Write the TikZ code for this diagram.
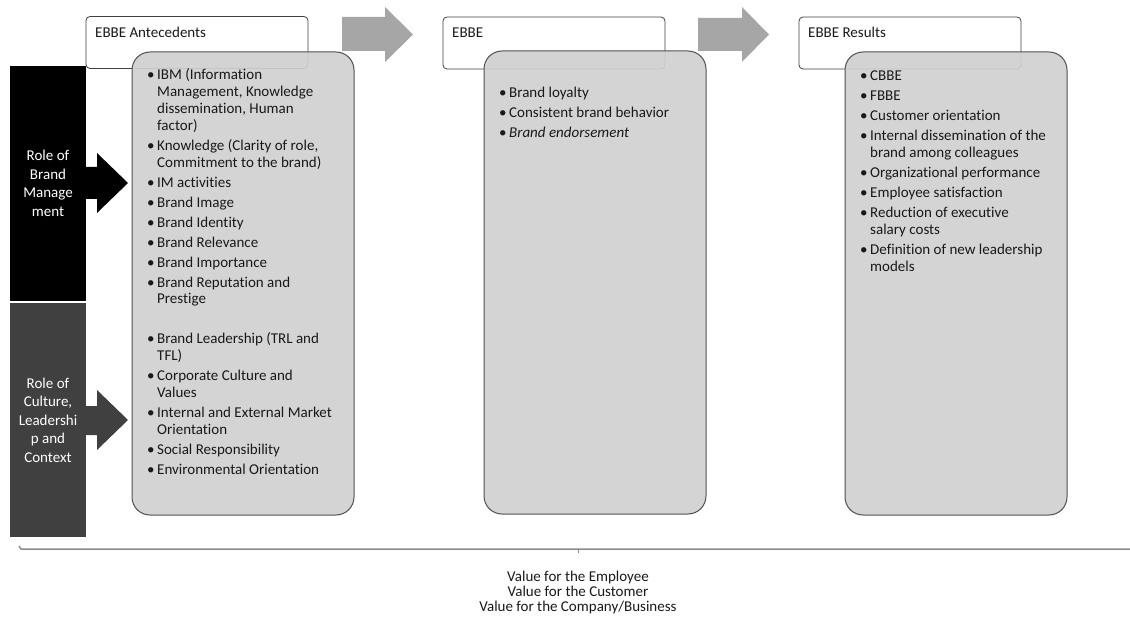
\documentclass[tikz,border=0pt]{standalone}
\usepackage{fontspec}
\setmainfont{Carlito}[Ligatures={NoCommon,NoContextual}]
\definecolor{panelgray}{HTML}{D0D0D0}
\definecolor{flowgray}{HTML}{A6A6A6}
\definecolor{darkbar}{HTML}{404040}
\definecolor{edgegray}{HTML}{505050}
\definecolor{rulegray}{HTML}{8A8A8A}
% one bullet point with a hanging indent
\newcommand{\bitem}[1]{\par\hangindent=10pt\hangafter=1\noindent\makebox[10pt][l]{\textbullet}#1\par}
% a block of bullet points whose baseline is its first line
\newcommand{\bulletblock}[2]{\vtop{\hsize=#1\fontsize{15}{16.8}\selectfont\parindent=0pt\parskip=3.2pt #2}}
\begin{document}
\begin{tikzpicture}[x=1pt,y=-1pt,
  headbox/.style={draw=black!75, line width=0.8pt, fill=white, rounded corners=4pt,
    minimum width=222pt, minimum height=52pt, inner sep=0pt, outer sep=0pt},
  panel/.style={draw=edgegray, line width=1pt, fill=panelgray, fill opacity=0.92,
    rounded corners=18pt, minimum width=222pt, minimum height=463pt, inner sep=0pt, outer sep=0pt},
  sidebar/.style={minimum width=76pt, inner sep=0pt, outer sep=0pt, text=white, align=center,
    font=\fontsize{15}{18.5}\selectfont},
  headtext/.style={anchor=base west, inner sep=0pt, font=\fontsize{15}{18}\selectfont, text=black!90},
  listtext/.style={anchor=base west, inner sep=0pt, text=black!90}]
\useasboundingbox (0,0) rectangle (1130,620);

% header boxes
\node[headbox] (h1) at (197,42.5) {};
\node[headbox] (h2) at (554,43) {};
\node[headbox] (h3) at (910,43) {};
\node[headtext] (h1t) at (95,38) {EBBE Antecedents};
\node[headtext] (h2t) at (452,38) {EBBE};
\node[headtext] (h3t) at (808,38) {EBBE Results};

% flow arrows between the stages
\fill[flowgray] (342,17) -- (385,17) -- (385,7) -- (413,34.5) -- (385,62) -- (385,51) -- (342,51) -- cycle;
\fill[flowgray] (698,18) -- (742,18) -- (742,7) -- (769,34.5) -- (742,62) -- (742,51) -- (698,51) -- cycle;

% content panels
\node[panel] (p1) at (243,283.5) {};
\node[panel] (p2) at (595,282.5) {};
\node[panel] (p3) at (956,283.5) {};

% side bars
\node[sidebar, fill=black, minimum height=235pt] (b1) at (48,183.5)
  {Role of\\Brand\\Manage\\ment};
\node[sidebar, fill=darkbar, minimum height=234pt] (b2) at (48,420)
  {Role of\\Culture,\\Leadershi\\p and\\Context};

% block arrows from the side bars into the first panel
\fill[black] (86,167) -- (97,167) -- (97,153) -- (128,183) -- (97,213) -- (97,199) -- (86,199) -- cycle;
\fill[darkbar] (86,406) -- (97,406) -- (97,390) -- (128,420) -- (97,450) -- (97,435) -- (86,435) -- cycle;

% panel contents
\node[listtext] (l1) at (147,80) {\bulletblock{250pt}{%
  \bitem{IBM (Information\\Management, Knowledge\\dissemination, Human\\factor)}
  \bitem{Knowledge (Clarity of role,\\Commitment to the brand)}
  \bitem{IM activities}
  \bitem{Brand Image}
  \bitem{Brand Identity}
  \bitem{Brand Relevance}
  \bitem{Brand Importance}
  \bitem{Brand Reputation and\\Prestige}
  \vspace{20pt}
  \bitem{Brand Leadership (TRL and\\TFL)}
  \bitem{Corporate Culture and\\Values}
  \bitem{Internal and External Market\\Orientation}
  \bitem{Social Responsibility}
  \bitem{Environmental Orientation}}};

\node[listtext] (l2) at (499,97.5) {\bulletblock{250pt}{%
  \bitem{Brand loyalty}
  \bitem{Consistent brand behavior}
  \bitem{\textit{Brand endorsement}}}};

\node[listtext] (l3) at (860,81) {\bulletblock{250pt}{%
  \bitem{CBBE}
  \bitem{FBBE}
  \bitem{Customer orientation}
  \bitem{Internal dissemination of the\\brand among colleagues}
  \bitem{Organizational performance}
  \bitem{Employee satisfaction}
  \bitem{Reduction of executive\\salary costs}
  \bitem{Definition of new leadership\\models}}};

% bracket along the bottom
\coordinate (bl) at (19,546);
\coordinate (blc) at (21,549);
\coordinate (br) at (1130,549);
\coordinate (bm) at (578,549);
\coordinate (bt) at (578,553);
\draw[rulegray, line width=1.5pt] (bl) -- (blc) -- (br);
\draw[rulegray, line width=1pt] (bm) -- (bt);

\node[anchor=center, inner sep=0pt, align=center, text=black!90,
  font=\fontsize{15}{15}\selectfont] (val) at (578,592.5)
  {Value for the Employee\\Value for the Customer\\Value for the Company/Business};
\end{tikzpicture}
\end{document}
